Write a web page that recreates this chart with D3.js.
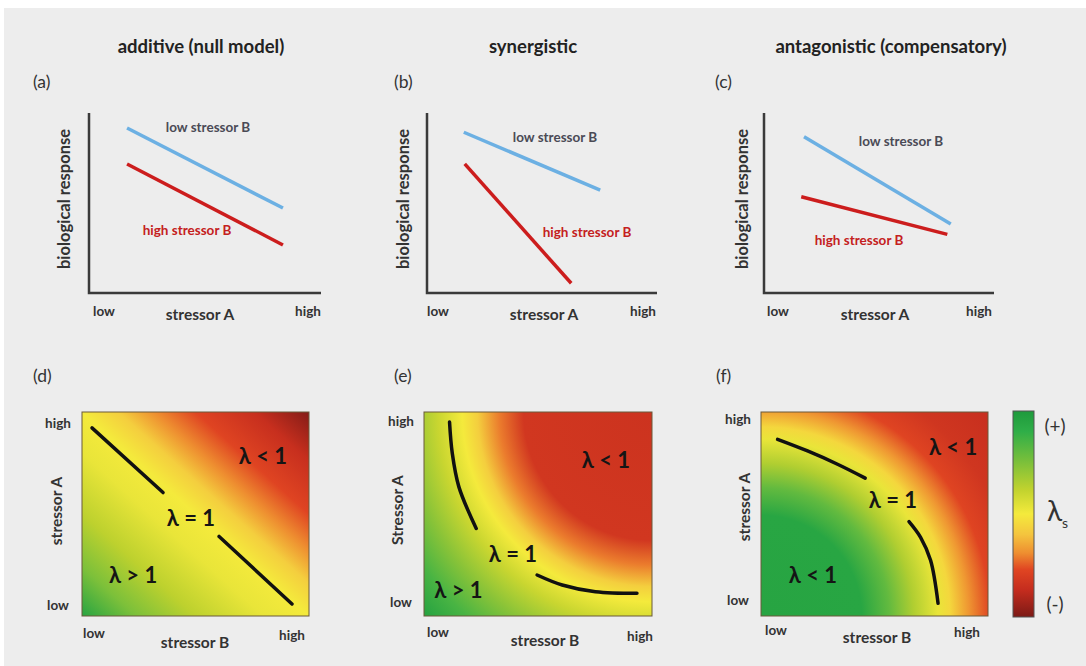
<!DOCTYPE html>
<html>
<head>
<meta charset="utf-8">
<script src="https://cdn.jsdelivr.net/npm/d3@7"></script>
<style>
  body { margin: 0; background: #fff; }
  svg { display: block; }
  text { font-family: Lato, 'Open Sans', 'DejaVu Sans', sans-serif; }
</style>
</head>
<body>
<svg id="chart" width="1086" height="666"></svg>
<script>
// ---- data ----
var columnTitles = ['additive (null model)', 'synergistic', 'antagonistic (compensatory)'];
var topLetters = ['(a)', '(b)', '(c)'];
var bottomLetters = ['(d)', '(e)', '(f)'];
var levelTicks = ['low', 'high'];
var bottomYTitles = ['stressor A', 'Stressor A', 'stressor A'];

// response to stressor A (x: low 0 .. high 1, y: biological response 0..1)
var lowB = [
  [[0.164, 0.917], [0.836, 0.472]],
  [[0.160, 0.893], [0.753, 0.572]],
  [[0.174, 0.868], [0.812, 0.383]]
];
var highB = [
  [[0.164, 0.717], [0.836, 0.267]],
  [[0.164, 0.717], [0.627, 0.054]],
  [[0.162, 0.535], [0.797, 0.326]]
];

// lambda = 1 contour pieces (x: stressor B, y: stressor A)
var contourD = [[[0.044, 0.922], [0.357, 0.605]], [[0.604, 0.390], [0.925, 0.059]]];
var contourE = [[[0.112, 0.951], [0.124, 0.798], [0.153, 0.633], [0.229, 0.429]],
                [[0.496, 0.201], [0.606, 0.152], [0.752, 0.119], [0.934, 0.111]]];
var contourF = [[[0.073, 0.866], [0.205, 0.809], [0.337, 0.744], [0.459, 0.676]],
                [[0.652, 0.463], [0.703, 0.386], [0.747, 0.273], [0.780, 0.062]]];

// region labels [stressor B, stressor A, text]
var regionsD = [[0.797, 0.783, 'λ < 1'], [0.480, 0.478, 'λ = 1'], [0.225, 0.200, 'λ > 1']];
var regionsE = [[0.798, 0.765, 'λ < 1'], [0.390, 0.302, 'λ = 1'], [0.151, 0.127, 'λ > 1']];
var regionsF = [[0.846, 0.827, 'λ < 1'], [0.581, 0.568, 'λ = 1'], [0.229, 0.200, 'λ < 1']];

// λs colour ramp, (+) to (-)
var lambdaLevels = [1, 0.8, 0.5, 0.24, 0, -0.2, -0.38, -0.54, -0.74, -1];
var lambdaColours = ['#1e9a3c', '#2fae48', '#7cc03a', '#c0d22e', '#f4ea3c',
                     '#f4c43e', '#ee8e30', '#e04522', '#c42c1e', '#7c1a16'];

// λs across each field: [fraction of distance, level]
var fieldD = [[0, 0.9], [0.12, 0.5], [0.25, 0.25], [0.4, 0.05], [0.5, 0], [0.58, -0.15],
              [0.66, -0.38], [0.75, -0.55], [0.88, -0.72], [1, -0.97]];       // low/low -> high/high
var fieldE = [[0, -0.68], [0.42, -0.65], [0.5, -0.42], [0.57, -0.15], [0.62, 0], [0.7, 0.2],
              [0.8, 0.45], [0.9, 0.7], [1, 0.92]];                            // from high/high corner
var fieldF = [[0, 0.9], [0.33, 0.88], [0.42, 0.6], [0.5, 0.3], [0.58, 0.05], [0.62, -0.1],
              [0.68, -0.35], [0.75, -0.55], [0.85, -0.66], [1, -0.72]];       // from low/low corner

// ---- layout ----
var topPanels = [
  { x0: 89, x1: 321, titleX: 201, letterX: 33, lowX: 104, highX: 308, axisTitleX: 200, yTitleX: 70,
    lowLab: [208, 132], highLab: [187, 235] },
  { x0: 427, x1: 657, titleX: 533, letterX: 394, lowX: 438, highX: 643, axisTitleX: 544, yTitleX: 409,
    lowLab: [555, 142], highLab: [587, 237] },
  { x0: 764, x1: 994, titleX: 891, letterX: 715, lowX: 778, highX: 979, axisTitleX: 875, yTitleX: 748,
    lowLab: [901, 146], highLab: [859, 245] }
];
var heatPanels = [
  { x0: 82, x1: 309, letterX: 33, yTickX: 58, yTickY: [610, 428], yTitleX: 62, yTitleY: 511,
    xTickX: [94, 292], xTickY: [638, 640], xTitleX: 195, xTitleY: 648 },
  { x0: 424, x1: 652, letterX: 394, yTickX: 401, yTickY: [607, 426], yTitleX: 403, yTitleY: 510,
    xTickX: [438, 640], xTickY: [637, 641], xTitleX: 545, xTitleY: 646 },
  { x0: 761, x1: 988, letterX: 716, yTickX: 738, yTickY: [605, 424], yTitleX: 750, yTitleY: 507,
    xTickX: [776, 967], xTickY: [635, 637], xTitleX: 877, xTitleY: 643 }
];
var heatTop = 412, heatBottom = 616;

var svg = d3.select('#chart');
svg.append('rect').attr('x', 4).attr('y', 8).attr('width', 1082).attr('height', 658).attr('fill', '#ededed');
var defs = svg.append('defs');

var lambdaColour = d3.scaleLinear().domain(lambdaLevels).range(lambdaColours);

// ---- top row: response lines ----
topPanels.forEach(function (p, i) {
  var x = d3.scaleLinear().domain([0, 1]).range([p.x0, p.x1]);
  var y = d3.scaleLinear().domain([0, 1]).range([293, 113]);
  var g = svg.append('g');
  var line = d3.line().x(function (d) { return x(d[0]); }).y(function (d) { return y(d[1]); });

  g.append('text').attr('x', p.titleX).attr('y', 53).attr('text-anchor', 'middle')
    .attr('font-size', 18.5).attr('font-weight', 'bold').attr('fill', '#222').text(columnTitles[i]);
  g.append('text').attr('x', p.letterX).attr('y', 88)
    .attr('font-size', 17.5).attr('fill', '#333').text(topLetters[i]);

  // axes
  g.append('path').attr('d', 'M' + x(0) + ',' + y(1) + 'V' + y(0) + 'H' + x(1))
    .attr('fill', 'none').attr('stroke', '#3a3a3a').attr('stroke-width', 2.5);

  g.append('path').datum(lowB[i]).attr('d', line)
    .attr('fill', 'none').attr('stroke', '#6cb0e3').attr('stroke-width', 3.5);
  g.append('path').datum(highB[i]).attr('d', line)
    .attr('fill', 'none').attr('stroke', '#cc1d1d').attr('stroke-width', 3.5);

  g.append('text').attr('x', p.lowLab[0]).attr('y', p.lowLab[1]).attr('text-anchor', 'middle')
    .attr('font-size', 13.5).attr('font-weight', 'bold').attr('fill', '#4a4a55').text('low stressor B');
  g.append('text').attr('x', p.highLab[0]).attr('y', p.highLab[1]).attr('text-anchor', 'middle')
    .attr('font-size', 13.5).attr('font-weight', 'bold').attr('fill', '#c42020').text('high stressor B');

  g.append('text').attr('x', p.lowX).attr('y', 316).attr('text-anchor', 'middle')
    .attr('font-size', 13.5).attr('font-weight', 'bold').attr('fill', '#333').text(levelTicks[0]);
  g.append('text').attr('x', p.highX).attr('y', 316).attr('text-anchor', 'middle')
    .attr('font-size', 13.5).attr('font-weight', 'bold').attr('fill', '#333').text(levelTicks[1]);
  g.append('text').attr('x', p.axisTitleX).attr('y', 320).attr('text-anchor', 'middle')
    .attr('font-size', 15.5).attr('font-weight', 'bold').attr('fill', '#333').text('stressor A');
  g.append('text').attr('transform', 'translate(' + p.yTitleX + ',199) rotate(-90)')
    .attr('text-anchor', 'middle').attr('font-size', 16.5).attr('font-weight', 'bold')
    .attr('fill', '#333').text('biological response');
});

// ---- bottom row: λs fields ----
var fields = [fieldD, fieldE, fieldF];
var contours = [contourD, contourE, contourF];
var regions = [regionsD, regionsE, regionsF];

heatPanels.forEach(function (p, i) {
  var x = d3.scaleLinear().domain([0, 1]).range([p.x0, p.x1]);
  var y = d3.scaleLinear().domain([0, 1]).range([heatBottom, heatTop]);
  var g = svg.append('g');
  var id = 'field' + i;
  var grad;
  if (i === 0) {
    grad = defs.append('linearGradient').attr('id', id)
      .attr('x1', 0).attr('y1', 1).attr('x2', 1).attr('y2', 0);
  } else {
    var corner = i === 1 ? [1, 1] : [0, 0];
    grad = defs.append('radialGradient').attr('id', id).attr('gradientUnits', 'userSpaceOnUse')
      .attr('cx', x(corner[0])).attr('cy', y(corner[1]))
      .attr('r', Math.hypot(x(1) - x(0), y(0) - y(1)));
  }
  grad.selectAll('stop').data(fields[i]).enter().append('stop')
    .attr('offset', function (d) { return d[0]; })
    .attr('stop-color', function (d) { return lambdaColour(d[1]); });

  g.append('rect').attr('x', x(0)).attr('y', y(1))
    .attr('width', x(1) - x(0)).attr('height', y(0) - y(1))
    .attr('fill', 'url(#' + id + ')').attr('stroke', '#6a5a3a').attr('stroke-width', 1);

  var curve = d3.line().curve(d3.curveCatmullRom)
    .x(function (d) { return x(d[0]); }).y(function (d) { return y(d[1]); });
  g.selectAll('path.contour').data(contours[i]).enter().append('path')
    .attr('class', 'contour').attr('d', curve)
    .attr('fill', 'none').attr('stroke', '#111').attr('stroke-width', 3.5).attr('stroke-linecap', 'round');

  g.selectAll('text.region').data(regions[i]).enter().append('text')
    .attr('class', 'region')
    .attr('x', function (d) { return x(d[0]); }).attr('y', function (d) { return y(d[1]); })
    .attr('dy', '0.35em').attr('text-anchor', 'middle')
    .attr('font-size', 22).attr('font-weight', 'bold').attr('fill', '#151515')
    .text(function (d) { return d[2]; });

  g.append('text').attr('x', p.letterX).attr('y', 382)
    .attr('font-size', 17.5).attr('fill', '#333').text(bottomLetters[i]);

  levelTicks.forEach(function (t, k) {
    g.append('text').attr('x', p.yTickX).attr('y', p.yTickY[k]).attr('text-anchor', 'middle')
      .attr('font-size', 13.5).attr('font-weight', 'bold').attr('fill', '#333').text(t);
    g.append('text').attr('x', p.xTickX[k]).attr('y', p.xTickY[k]).attr('text-anchor', 'middle')
      .attr('font-size', 13.5).attr('font-weight', 'bold').attr('fill', '#333').text(t);
  });
  g.append('text').attr('x', p.xTitleX).attr('y', p.xTitleY).attr('text-anchor', 'middle')
    .attr('font-size', 15.5).attr('font-weight', 'bold').attr('fill', '#333').text('stressor B');
  g.append('text').attr('transform', 'translate(' + p.yTitleX + ',' + p.yTitleY + ') rotate(-90)')
    .attr('text-anchor', 'middle').attr('font-size', 15.5).attr('font-weight', 'bold')
    .attr('fill', '#333').text(bottomYTitles[i]);
});

// ---- colour bar ----
var barY = d3.scaleLinear().domain([1, -1]).range([411, 617]);
var barGrad = defs.append('linearGradient').attr('id', 'lambdaBar')
  .attr('x1', 0).attr('y1', 0).attr('x2', 0).attr('y2', 1);
barGrad.selectAll('stop').data(lambdaLevels).enter().append('stop')
  .attr('offset', function (d) { return (barY(d) - barY(1)) / (barY(-1) - barY(1)); })
  .attr('stop-color', function (d) { return lambdaColour(d); });
svg.append('rect').attr('x', 1013).attr('y', barY(1)).attr('width', 21)
  .attr('height', barY(-1) - barY(1)).attr('fill', 'url(#lambdaBar)')
  .attr('stroke', '#555').attr('stroke-width', 1);
svg.append('text').attr('x', 1055).attr('y', 433).attr('text-anchor', 'middle')
  .attr('font-size', 19).attr('fill', '#333').text('(+)');
svg.append('text').attr('x', 1055).attr('y', 611).attr('text-anchor', 'middle')
  .attr('font-size', 19).attr('fill', '#333').text('(-)');
var lam = svg.append('text').attr('x', 1047).attr('y', 521).attr('fill', '#333');
lam.append('tspan').attr('font-size', 28).text('λ');
lam.append('tspan').attr('font-size', 14).attr('dy', 7).text('s');
</script>
</body>
</html>
